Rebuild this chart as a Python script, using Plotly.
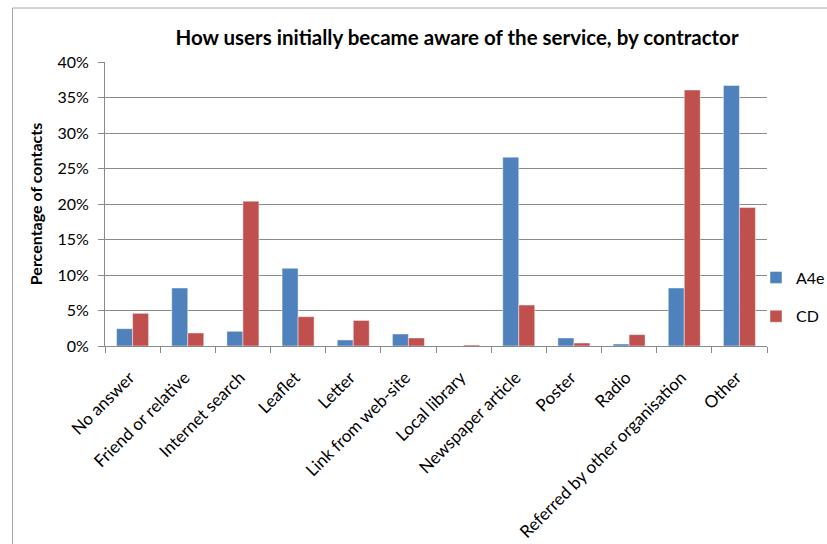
import plotly.graph_objects as go

categories = ["No answer", "Friend or relative", "Internet search", "Leaflet", "Letter",
              "Link from web-site", "Local library", "Newspaper article", "Poster", "Radio",
              "Referred by other organisation", "Other"]
a4e = [2.44, 8.17, 2.07, 10.94, 0.85, 1.69, 0.0, 26.6, 1.13, 0.28, 8.17, 36.7]
cd = [4.6, 1.83, 20.4, 4.13, 3.6, 1.13, 0.14, 5.77, 0.42, 1.6, 36.06, 19.5]
y_ticks = [0, 5, 10, 15, 20, 25, 30, 35, 40]
y_tick_labels = ["0%", "5%", "10%", "15%", "20%", "25%", "30%", "35%", "40%"]

FONT = "Lato, Carlito, Calibri, sans-serif"
GRID = "#8a8a8a"

# plot area targeted at x 105..767, y 62..346 in the window (body margin removed)
W, H = 827, 544
PW, PH = 662, 284
L, T = 105, 62
R = W - L - PW
B = H - T - PH

fig = go.Figure()
fig.add_trace(go.Bar(x=categories, y=a4e, name="A4e", legendgroup="a",
                     marker=dict(color="#4F81BD", line=dict(color="rgba(255,255,255,0.45)", width=1))))
fig.add_trace(go.Bar(x=categories, y=cd, name="CD", legendgroup="b",
                     marker=dict(color="#C0504D", line=dict(color="rgba(255,255,255,0.45)", width=1))))

fig.update_layout(
    width=W, height=H,
    margin=dict(l=L, r=R, t=T, b=B, autoexpand=False),
    paper_bgcolor="white", plot_bgcolor="white",
    font=dict(family=FONT, size=16, color="black"),
    barmode="group", bargap=0.42, bargroupgap=0,
    title=dict(text="<b>How users initially became aware of the service, by contractor</b>",
               font=dict(family=FONT, size=20.5, color="black"),
               x=(457 - 105) / PW, xref="paper", xanchor="center",
               y=1 - 38 / H, yref="container", yanchor="middle"),
    legend=dict(x=(756 - 105) / PW, xanchor="left", y=(346 - 297) / PH, yanchor="middle",
                font=dict(family=FONT, size=16, color="black"),
                tracegroupgap=15, bgcolor="rgba(0,0,0,0)", borderwidth=0),
    showlegend=True,
    xaxis=dict(type="category", tickangle=-45, showline=True, linecolor=GRID, linewidth=1,
               ticks="outside", tickson="boundaries", ticklen=6, tickcolor=GRID,
               showgrid=False, automargin=False,
               ticklabelshift=-3, ticklabelstandoff=14,
               tickfont=dict(family=FONT, size=17, color="black")),
    yaxis=dict(range=[0, 40], tickvals=y_ticks, ticktext=y_tick_labels,
               showline=True, linecolor=GRID, linewidth=1,
               ticks="outside", ticklen=6, tickcolor=GRID,
               showgrid=True, gridcolor=GRID, gridwidth=1, zeroline=False,
               ticklabelstandoff=6, automargin=False,
               tickfont=dict(family=FONT, size=16, color="black"),
               title=dict(text="<b>Percentage of contacts</b>", standoff=10,
                          font=dict(family=FONT, size=16, color="black"))),
    shapes=[dict(type="rect", xref="paper", yref="paper",
                 x0=(12.5 - 105) / PW, x1=1.3, y0=-1.0, y1=(346 - 8) / PH,
                 line=dict(color="#a6a6a6", width=1), fillcolor="rgba(0,0,0,0)", layer="below")],
)

fig.write_html("out.html", config={"displayModeBar": False},
               post_script="document.body.style.margin='0';document.body.style.overflow='hidden';")
